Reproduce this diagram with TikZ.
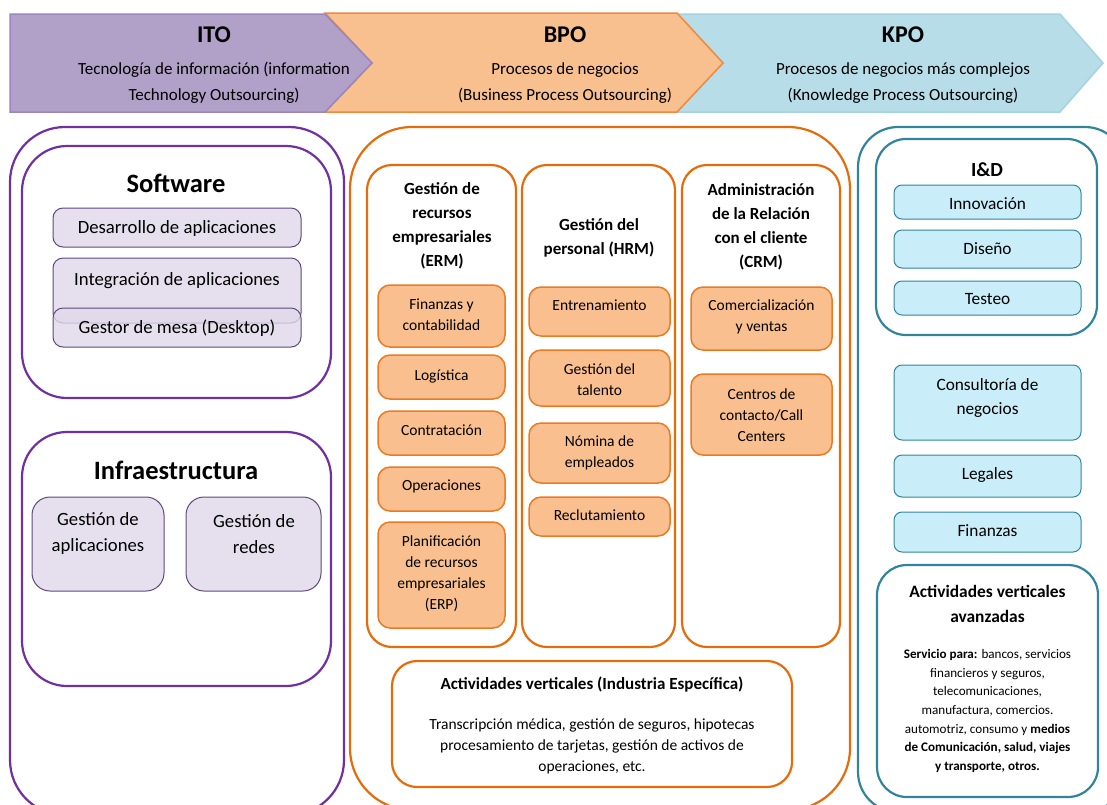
\documentclass[tikz,border=0pt]{standalone}
\usepackage{fontspec}
\setmainfont{Carlito}
\definecolor{itoline}{HTML}{7030A0}
\definecolor{itohead}{HTML}{B1A0C7}
\definecolor{itohdline}{HTML}{9A86BC}
\definecolor{itolight}{HTML}{E0D8EA}
\definecolor{itosub}{HTML}{5F497A}
\definecolor{bpoline}{HTML}{E46C0A}
\definecolor{bpohead}{HTML}{F9C08F}
\definecolor{bpohdline}{HTML}{F0893C}
\definecolor{bpolight}{HTML}{F9BF8E}
\definecolor{bposub}{HTML}{EC7A22}
\definecolor{kpoline}{HTML}{31849B}
\definecolor{kpohead}{HTML}{B7DDE8}
\definecolor{kpohdline}{HTML}{A5D3E0}
\definecolor{kpolight}{HTML}{C9EEFA}
\begin{document}
\begin{tikzpicture}[x=1pt,y=-1pt,
    hdr/.style={line width=1.5pt},
    hdrtit/.style={font=\bfseries\fontsize{24}{28}\selectfont},
    hdrtxt/.style={align=center,font=\fontsize{17}{26}\selectfont},
    itocol/.style={draw=itoline,line width=2.2pt,rounded corners=45pt},
    itobox/.style={draw=itosub,fill=itolight,fill opacity=0.8,line width=1pt,rounded corners=10pt},
    bpocol/.style={draw=bpoline,line width=2.2pt,rounded corners=25pt},
    bpobox/.style={draw=bposub,fill=bpolight,line width=1.5pt,rounded corners=12pt},
    kpocol/.style={draw=kpoline,line width=2.2pt,rounded corners=30pt},
    kpobox/.style={draw=kpoline,fill=kpolight,line width=1pt,rounded corners=8pt},
    bigtit/.style={font=\bfseries\fontsize{26.5}{30}\selectfont},
    subtit/.style={align=center,font=\bfseries\fontsize{17}{24}\selectfont},
    bigtxt/.style={align=center,font=\fontsize{18.7}{26}\selectfont},
    midtxt/.style={align=center,font=\fontsize{17.3}{24}\selectfont},
    smltxt/.style={align=center,font=\fontsize{15.5}{21}\selectfont}]
\useasboundingbox (0,0) rectangle (1107,804);
\clip (0,0) rectangle (1107,804);
%%%%%%%% cabecera
\draw[hdr,draw=kpohdline,fill=kpohead] (677,14)--(1060,14)--(1103,63)--(1060,112)--(677,112)--(723,63)--cycle;
\draw[hdr,draw=bpohdline,fill=bpohead] (325,13)--(677,13)--(723,63)--(677,112)--(325,112)--(372,63)--cycle;
\draw[hdr,draw=itohdline,fill=itohead] (10,14)--(325,14)--(372,63)--(325,112)--(10,112)--cycle;
\node[hdrtit] (ito) at (214,35) {ITO};
\node[hdrtxt] (itotxt) at (214,83) {Tecnología de información (information\\Technology Outsourcing)};
\node[hdrtit] (bpo) at (565,35) {BPO};
\node[hdrtxt] (bpotxt) at (565,83) {Procesos de negocios\\(Business Process Outsourcing)};
\node[hdrtit] (kpo) at (903,35) {KPO};
\node[hdrtxt] (kpotxt) at (903,83) {Procesos de negocios más complejos\\(Knowledge Process Outsourcing)};
%%%%%%%% ITO
\draw[itocol,rounded corners=55pt] (10,127) rectangle (344,815);
\draw[itocol] (22,146) rectangle (331,398);
\node[bigtit] (soft) at (176,183) {Software};
\draw[itobox] (53,208) rectangle (301,247);
\node[bigtxt] (desa) at (177,229) {Desarrollo de aplicaciones};
\draw[itobox] (53,258) rectangle (301,323);
\node[bigtxt] (integ) at (177,281) {Integración de aplicaciones};
\draw[itobox] (53,308) rectangle (301,347);
\node[bigtxt] (gestor) at (177,328) {Gestor de mesa (Desktop)};
\draw[itocol] (22,432) rectangle (331,686);
\node[bigtit] (infra) at (176,470) {Infraestructura};
\draw[itobox,rounded corners=18pt] (32,497) rectangle (164,591);
\node[bigtxt] (gapl) at (98,534) {Gestión de\\aplicaciones};
\draw[itobox,rounded corners=18pt] (186,497) rectangle (321,591);
\node[bigtxt] (gred) at (254,534) {Gestión de\\redes};
%%%%%%%% BPO
\draw[bpocol,rounded corners=62pt] (350,127) rectangle (850,810);
\draw[bpocol] (367,165) rectangle (516,647);
\draw[bpocol] (522,165) rectangle (675,647);
\draw[bpocol] (682,165) rectangle (840,647);
\node[subtit] (erm) at (442,225.5) {Gestión de\\recursos\\empresariales\\(ERM)};
\node[subtit] (hrm) at (599,237.5) {Gestión del\\personal (HRM)};
\node[subtit] (crm) at (761,227) {Administración\\de la Relación\\con el cliente\\(CRM)};
\foreach \n/\ya/\yb/\yt/\txt in {fin/285/347/314.5/{Finanzas y\\contabilidad},
    log/355/399/376/Logística, con/411/455/430/Contratación,
    ope/467/511/486/Operaciones,
    erp/522/628/574/{Planificación\\de recursos\\empresariales\\(ERP)}}{
  \draw[bpobox] (378,\ya) rectangle (505,\yb);
  \node[smltxt] (erm-\n) at (441.5,\yt) {\txt};}
\foreach \n/\ya/\yb/\yt/\txt in {ent/287/336/305/Entrenamiento,
    tal/350/406/379.5/{Gestión del\\talento}, nom/423/483/452.5/{Nómina de\\empleados},
    rec/497/536/515/Reclutamiento}{
  \draw[bpobox] (529,\ya) rectangle (670,\yb);
  \node[smltxt] (hrm-\n) at (599.5,\yt) {\txt};}
\foreach \n/\ya/\yb/\yt/\txt in {com/287/350/316.5/{Comercialización\\y ventas},
    cen/374/455/415/{Centros de\\contacto/Call\\Centers}}{
  \draw[bpobox] (691,\ya) rectangle (832,\yb);
  \node[smltxt] (crm-\n) at (761.5,\yt) {\txt};}
\draw[bpocol] (392,661) rectangle (792,787);
\node[subtit] (vert) at (592,685) {Actividades verticales (Industria Específica)};
\node[smltxt] (verttxt) at (592,746.5) {Transcripción médica, gestión de seguros, hipotecas\\procesamiento de tarjetas, gestión de activos de\\operaciones, etc.};
%%%%%%%% KPO
\draw[kpocol,rounded corners=40pt] (858,127) rectangle (1125,812);
\draw[kpocol] (876,139) rectangle (1097,335);
\node[subtit,font=\bfseries\fontsize{20}{24}\selectfont] (iyd) at (987,170) {I\&D};
\foreach \n/\ya/\yb/\yt/\txt in {inn/185/219/204/Innovación, dis/230/268/249/Diseño,
    tes/281/315/299/Testeo, cons/365/440/398/{Consultoría de\\negocios},
    leg/455/497/475/Legales, fin/512/552/531/Finanzas}{
  \draw[kpobox] (894,\ya) rectangle (1081,\yb);
  \node[midtxt] (kpo-\n) at (987.5,\yt) {\txt};}
\draw[kpocol] (877,565) rectangle (1098,797);
\node[subtit,font=\bfseries\fontsize{17.4}{25}\selectfont] (avz) at (987.5,603.5) {Actividades verticales\\avanzadas};
\node[align=center,font=\fontsize{13.1}{18.7}\selectfont] (avztxt) at (987.5,711) {\textbf{Servicio para:} bancos, servicios\\financieros y seguros,\\telecomunicaciones,\\manufactura, comercios.\\automotriz, consumo y \textbf{medios}\\\textbf{de Comunicación, salud, viajes}\\\textbf{y transporte, otros.}};
\end{tikzpicture}
\end{document}
